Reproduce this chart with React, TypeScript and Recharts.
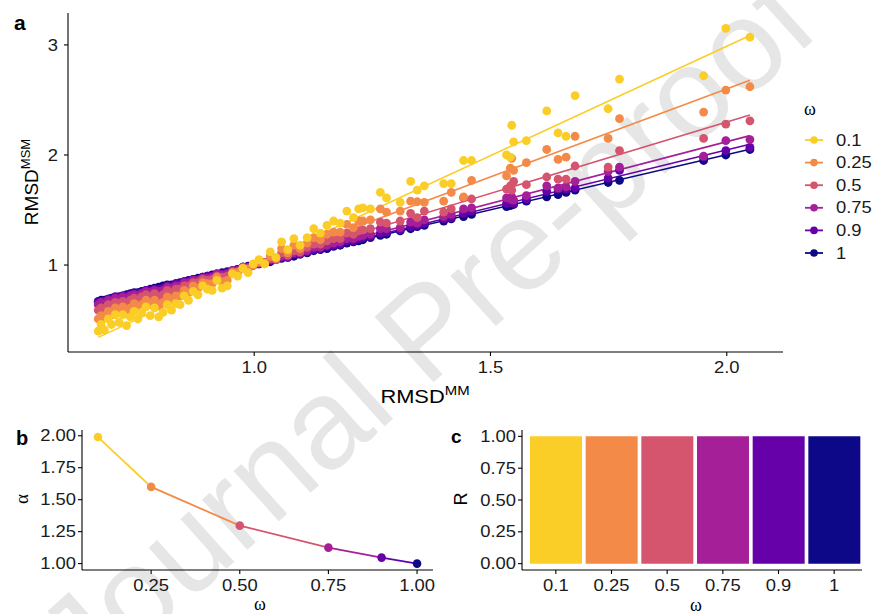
import React from 'react';
import { ComposedChart, BarChart, Scatter, Line, Bar, Cell, XAxis, YAxis } from 'recharts';

// omega levels shared by all three panels
const omegaLabels = ['0.1', '0.25', '0.5', '0.75', '0.9', '1'];
const omegaValues = [0.1, 0.25, 0.5, 0.75, 0.9, 1.0];
const omegaColors = ['#FBCD27', '#F48A48', '#D5546E', '#A52098', '#6600A8', '#0D0887'];

// panel a: RMSD^MM (shared x) and RMSD^MSM for each omega
const rmsdMM = [
  0.670, 0.676, 0.683, 0.691, 0.698, 0.706, 0.714, 0.722, 0.730, 0.738,
  0.746, 0.754, 0.762, 0.771, 0.780, 0.789, 0.798, 0.807, 0.816, 0.825,
  0.834, 0.843, 0.852, 0.861, 0.871, 0.881, 0.891, 0.901, 0.911, 0.921,
  0.932, 0.943, 0.954, 0.965, 0.976, 0.987, 0.998, 1.010, 1.022, 1.034,
  1.046, 1.058, 1.071, 1.084, 1.097, 1.112, 1.126, 1.140, 1.154, 1.168,
  1.182, 1.196, 1.210, 1.221, 1.230, 1.246, 1.267, 1.280, 1.309, 1.331,
  1.345, 1.360, 1.401, 1.417, 1.443, 1.460, 1.534, 1.542, 1.545, 1.549,
  1.576, 1.619, 1.643, 1.660, 1.679, 1.749, 1.773, 1.951, 1.998, 2.049,
];
const msm01 = [
  0.40, 0.46, 0.41, 0.51, 0.46, 0.55, 0.48, 0.55, 0.45, 0.53,
  0.58, 0.51, 0.57, 0.62, 0.54, 0.61, 0.53, 0.57, 0.64, 0.59,
  0.65, 0.64, 0.72, 0.68, 0.76, 0.73, 0.81, 0.78, 0.77, 0.86,
  0.79, 0.81, 0.92, 0.90, 0.97, 0.93, 1.01, 1.05, 1.01, 1.12,
  1.07, 1.21, 1.14, 1.24, 1.18, 1.25, 1.33, 1.29, 1.36, 1.40,
  1.38, 1.49, 1.43, 1.51, 1.52, 1.51, 1.66, 1.61, 1.57, 1.76,
  1.68, 1.72, 1.74, 1.74, 1.95, 1.95, 2.00, 1.98, 2.27, 2.12,
  2.13, 2.40, 2.20, 2.17, 2.54, 2.42, 2.69, 2.72, 3.15, 3.07,
];
const msm025 = [
  0.51, 0.54, 0.52, 0.58, 0.55, 0.61, 0.57, 0.62, 0.56, 0.61,
  0.65, 0.61, 0.64, 0.68, 0.64, 0.68, 0.63, 0.66, 0.71, 0.68,
  0.72, 0.72, 0.77, 0.75, 0.81, 0.79, 0.84, 0.83, 0.83, 0.89,
  0.85, 0.86, 0.93, 0.93, 0.97, 0.96, 1.00, 1.03, 1.02, 1.08,
  1.06, 1.15, 1.11, 1.18, 1.15, 1.20, 1.25, 1.23, 1.28, 1.30,
  1.30, 1.37, 1.34, 1.40, 1.40, 1.41, 1.51, 1.48, 1.49, 1.58,
  1.575, 1.57, 1.58, 1.66, 1.62, 1.77, 1.81, 1.88, 1.97, 1.86,
  1.93, 2.05, 1.96, 1.98, 2.17, 2.15, 2.33, 2.39, 2.59, 2.62,
];
const msm05 = [
  0.59, 0.61, 0.60, 0.64, 0.63, 0.66, 0.65, 0.67, 0.65, 0.68,
  0.70, 0.68, 0.71, 0.73, 0.71, 0.74, 0.71, 0.73, 0.77, 0.75,
  0.78, 0.78, 0.81, 0.81, 0.84, 0.84, 0.87, 0.86, 0.87, 0.90,
  0.89, 0.90, 0.94, 0.94, 0.98, 0.97, 1.00, 1.02, 1.02, 1.06,
  1.05, 1.11, 1.09, 1.13, 1.12, 1.16, 1.19, 1.19, 1.22, 1.24,
  1.24, 1.29, 1.28, 1.31, 1.32, 1.33, 1.39, 1.38, 1.40, 1.47,
  1.43, 1.49, 1.48, 1.51, 1.61, 1.60, 1.69, 1.72, 1.68, 1.76,
  1.73, 1.80, 1.78, 1.78, 1.90, 1.89, 2.04, 2.15, 2.28, 2.31,
];
const msm075 = [
  0.64, 0.66, 0.65, 0.68, 0.67, 0.70, 0.69, 0.71, 0.69, 0.72,
  0.73, 0.72, 0.74, 0.76, 0.75, 0.77, 0.76, 0.77, 0.80, 0.79,
  0.81, 0.81, 0.84, 0.84, 0.86, 0.86, 0.88, 0.88, 0.89, 0.92,
  0.91, 0.92, 0.95, 0.95, 0.98, 0.98, 1.00, 1.02, 1.02, 1.05,
  1.05, 1.08, 1.08, 1.11, 1.11, 1.13, 1.16, 1.16, 1.18, 1.20,
  1.21, 1.24, 1.24, 1.26, 1.27, 1.28, 1.33, 1.33, 1.34, 1.39,
  1.38, 1.41, 1.44, 1.46, 1.51, 1.52, 1.61, 1.60, 1.62, 1.59,
  1.63, 1.72, 1.70, 1.71, 1.76, 1.85, 1.89, 1.99, 2.13, 2.14,
];
const msm09 = [
  0.66, 0.67, 0.67, 0.69, 0.69, 0.71, 0.71, 0.72, 0.72, 0.73,
  0.74, 0.74, 0.75, 0.77, 0.77, 0.78, 0.78, 0.79, 0.81, 0.81,
  0.83, 0.83, 0.85, 0.85, 0.87, 0.87, 0.89, 0.90, 0.90, 0.92,
  0.92, 0.93, 0.95, 0.96, 0.98, 0.98, 1.00, 1.01, 1.02, 1.04,
  1.05, 1.07, 1.07, 1.10, 1.10, 1.12, 1.14, 1.15, 1.17, 1.18,
  1.19, 1.22, 1.22, 1.24, 1.25, 1.26, 1.29, 1.30, 1.32, 1.35,
  1.36, 1.38, 1.42, 1.43, 1.47, 1.49, 1.56, 1.57, 1.58, 1.56,
  1.60, 1.67, 1.69, 1.69, 1.70, 1.79, 1.86, 1.98, 2.04, 2.07,
];
const msm1 = [
  0.67, 0.68, 0.68, 0.69, 0.70, 0.71, 0.71, 0.72, 0.73, 0.74,
  0.75, 0.75, 0.76, 0.77, 0.78, 0.79, 0.80, 0.81, 0.82, 0.82,
  0.83, 0.84, 0.85, 0.86, 0.87, 0.88, 0.89, 0.90, 0.91, 0.92,
  0.93, 0.94, 0.95, 0.96, 0.98, 0.99, 1.00, 1.01, 1.02, 1.03,
  1.05, 1.06, 1.07, 1.08, 1.10, 1.11, 1.13, 1.14, 1.15, 1.17,
  1.18, 1.20, 1.21, 1.22, 1.23, 1.25, 1.27, 1.28, 1.31, 1.33,
  1.35, 1.36, 1.40, 1.42, 1.44, 1.46, 1.53, 1.54, 1.55, 1.55,
  1.58, 1.62, 1.64, 1.66, 1.68, 1.75, 1.77, 1.95, 2.00, 2.05,
];
const msmSeries = [msm01, msm025, msm05, msm075, msm09, msm1];

// fitted lines, read at the ends of the x range
const fitX = [0.67, 2.049];
const fitStartY = [0.343, 0.472, 0.572, 0.629, 0.655, 0.67];
const fitEndY = [3.085, 2.679, 2.364, 2.176, 2.097, 2.052];

// panel b and c
const alphaValues = [1.99, 1.6, 1.297, 1.125, 1.047, 1.0];
const rValues = [1, 1, 1, 1, 1, 1];

const FONT = '"Liberation Sans", Arial, Helvetica, sans-serif';
const SERIF = '"Liberation Serif", "Times New Roman", serif';
const STRETCH = 1.15;
const TICK_SIZE = 16;
const AXIS = { stroke: '#000', strokeWidth: 1.1 };

const makeTick = (axis: 'x' | 'y', fmt: (v: any) => string) => (props: any) => {
  const { x, y, payload } = props;
  return (
    <text
      transform={`translate(${x},${y}) scale(${STRETCH},1)`}
      textAnchor={axis === 'x' ? 'middle' : 'end'}
      dy={axis === 'x' ? '0.71em' : '0.35em'}
      fontSize={TICK_SIZE}
      fontFamily={FONT}
      fill="#1a1a1a"
    >
      {fmt(payload.value)}
    </text>
  );
};

const PanelA = () => (
  <ComposedChart width={872} height={415} margin={{ top: 13, right: 89, bottom: 0, left: 0 }}>
    <XAxis
      type="number"
      dataKey="x"
      domain={[0.606, 2.119]}
      ticks={[1, 1.5, 2]}
      allowDataOverflow
      height={63}
      axisLine={AXIS}
      tickLine={AXIS}
      tickSize={4}
      tickMargin={6}
      tick={makeTick('x', (v) => Number(v).toFixed(1))}
    />
    <YAxis
      type="number"
      dataKey="y"
      domain={[0.21, 3.29]}
      ticks={[1, 2, 3]}
      allowDataOverflow
      width={68}
      axisLine={AXIS}
      tickLine={AXIS}
      tickSize={4}
      tickMargin={6}
      tick={makeTick('y', (v) => String(v))}
    />
    {msmSeries
      .map((ys, i) => ({ ys, i }))
      .reverse()
      .map(({ ys, i }) => (
        <Scatter
          key={`pts-${i}`}
          data={rmsdMM.map((x, j) => ({ x, y: ys[j] }))}
          isAnimationActive={false}
          shape={(p: any) => <circle cx={p.cx} cy={p.cy} r={4.4} fill={omegaColors[i]} />}
        />
      ))}
    {omegaLabels.map((w, i) => (
      <Line
        key={`fit-${w}`}
        data={[
          { x: fitX[0], y: fitStartY[i] },
          { x: fitX[1], y: fitEndY[i] },
        ]}
        dataKey="y"
        type="linear"
        stroke={omegaColors[i]}
        strokeWidth={1.6}
        dot={false}
        activeDot={false}
        isAnimationActive={false}
      />
    ))}
  </ComposedChart>
);

const alphaData = omegaValues.map((w, i) => ({ x: w, y: alphaValues[i] }));
const span = omegaValues[omegaValues.length - 1] - omegaValues[0];
const stopAt = (w: number) => (w - omegaValues[0]) / span;

const PanelB = () => (
  <ComposedChart width={440} height={199} data={alphaData} margin={{ top: 15, right: 7, bottom: 0, left: 0 }}>
    <defs>
      <linearGradient id="alphaStroke" x1="0" y1="0" x2="1" y2="0">
        {omegaValues.slice(0, -1).map((w, i) => (
          <React.Fragment key={w}>
            <stop offset={stopAt(w)} stopColor={omegaColors[i]} />
            <stop offset={stopAt(omegaValues[i + 1])} stopColor={omegaColors[i]} />
          </React.Fragment>
        ))}
      </linearGradient>
    </defs>
    <XAxis
      type="number"
      dataKey="x"
      domain={[0.055, 1.045]}
      ticks={[0.25, 0.5, 0.75, 1]}
      allowDataOverflow
      height={44}
      axisLine={AXIS}
      tickLine={AXIS}
      tickSize={4}
      tickMargin={6}
      tick={makeTick('x', (v) => Number(v).toFixed(2))}
    />
    <YAxis
      type="number"
      domain={[0.95, 2.045]}
      ticks={[1, 1.25, 1.5, 1.75, 2]}
      allowDataOverflow
      width={82}
      axisLine={AXIS}
      tickLine={AXIS}
      tickSize={4}
      tickMargin={2}
      tick={makeTick('y', (v) => Number(v).toFixed(2))}
    />
    <Line
      dataKey="y"
      type="linear"
      stroke="url(#alphaStroke)"
      strokeWidth={1.8}
      isAnimationActive={false}
      activeDot={false}
      dot={(p: any) => <circle key={`ad-${p.index}`} cx={p.cx} cy={p.cy} r={4.3} fill={omegaColors[p.index]} />}
    />
  </ComposedChart>
);

const rData = omegaLabels.map((w, i) => ({ omega: w, r: rValues[i] }));

const PanelC = () => (
  <BarChart width={432} height={199} data={rData} margin={{ top: 15, right: 10, bottom: 0, left: 0 }}>
    <XAxis
      dataKey="omega"
      padding={{ left: 6, right: 0 }}
      height={44}
      axisLine={AXIS}
      tickLine={AXIS}
      tickSize={4}
      tickMargin={6}
      tick={makeTick('x', (v) => String(v))}
    />
    <YAxis
      type="number"
      domain={[-0.05, 1.05]}
      ticks={[0, 0.25, 0.5, 0.75, 1]}
      allowDataOverflow
      width={82}
      axisLine={AXIS}
      tickLine={AXIS}
      tickSize={4}
      tickMargin={2}
      tick={makeTick('y', (v) => Number(v).toFixed(2))}
    />
    <Bar dataKey="r" barSize={52} isAnimationActive={false}>
      {rData.map((d, i) => (
        <Cell key={d.omega} fill={omegaColors[i]} />
      ))}
    </Bar>
  </BarChart>
);

const Overlay = () => (
  <svg width={872} height={614} style={{ position: 'absolute', left: 0, top: 0, pointerEvents: 'none' }}>
    {/* panel letters */}
    <text x={14} y={30} fontSize={21} fontWeight="bold" fontFamily={FONT}>a</text>
    <text x={16} y={445} fontSize={20} fontWeight="bold" fontFamily={FONT}>b</text>
    <text x={451} y={443} fontSize={19} fontWeight="bold" fontFamily={FONT}>c</text>

    {/* panel a titles */}
    <text transform={`translate(425,403) scale(${STRETCH},1)`} textAnchor="middle" fontSize={19} fontFamily={FONT}>
      RMSD<tspan fontSize={13} dy={-8}>MM</tspan>
    </text>
    <text transform="translate(38,182) rotate(-90)" textAnchor="middle" fontSize={19} fontFamily={FONT}>
      RMSD<tspan fontSize={13} dy={-8}>MSM</tspan>
    </text>

    {/* legend */}
    <text x={810} y={115} textAnchor="middle" fontSize={18} fontFamily={SERIF}>ω</text>
    {omegaLabels.map((w, i) => {
      const cy = 140 + i * 22.6;
      return (
        <g key={w}>
          <line x1={805} x2={823} y1={cy} y2={cy} stroke={omegaColors[i]} strokeWidth={1.8} />
          <circle cx={814} cy={cy} r={3.8} fill={omegaColors[i]} />
          <text transform={`translate(836,${cy}) scale(${STRETCH},1)`} dy="0.35em" fontSize={TICK_SIZE} fontFamily={FONT} fill="#1a1a1a">
            {w}
          </text>
        </g>
      );
    })}

    {/* panel b titles */}
    <text x={260} y={610} textAnchor="middle" fontSize={18} fontFamily={SERIF}>ω</text>
    <text transform="translate(28,499) rotate(-90)" textAnchor="middle" fontSize={19} fontFamily={SERIF}>α</text>

    {/* panel c titles */}
    <text x={696} y={611} textAnchor="middle" fontSize={18} fontFamily={SERIF}>ω</text>
    <text transform="translate(467,499) rotate(-90)" textAnchor="middle" fontSize={18} fontFamily={FONT}>R</text>
  </svg>
);

const Watermark = () => (
  <svg width={872} height={614} style={{ position: 'absolute', left: 0, top: 0 }}>
    <text
      transform="translate(425,330) rotate(-42)"
      textAnchor="middle"
      dominantBaseline="central"
      fontSize={128}
      fontFamily={FONT}
      fill="#e6e6e6"
    >
      Journal Pre-proof
    </text>
  </svg>
);

export default function App() {
  return (
    <div style={{ position: 'absolute', left: 0, top: 0, width: 872, height: 614, overflow: 'hidden', background: '#fff', fontFamily: FONT }}>
      <Watermark />
      <div style={{ position: 'absolute', left: 0, top: 0 }}>
        <PanelA />
      </div>
      <div style={{ position: 'absolute', left: 0, top: 415 }}>
        <PanelB />
      </div>
      <div style={{ position: 'absolute', left: 440, top: 415 }}>
        <PanelC />
      </div>
      <Overlay />
    </div>
  );
}
